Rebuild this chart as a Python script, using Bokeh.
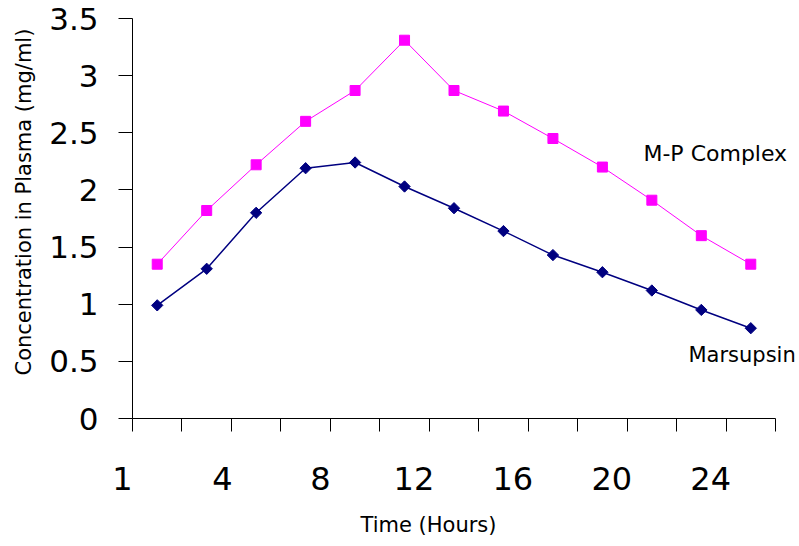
from bokeh.plotting import figure
from bokeh.models import Range1d, FixedTicker, NumeralTickFormatter, Label, Title
from bokeh.embed import file_html
from bokeh.resources import INLINE
import numpy as np

# ---- data ----
sample_index = [1, 2, 3, 4, 5, 6, 7, 8, 9, 10, 11, 12, 13]
mp_complex = [1.35, 1.82, 2.22, 2.60, 2.87, 3.31, 2.87, 2.69, 2.45, 2.20, 1.91, 1.60, 1.35]
marsupsin = [0.99, 1.31, 1.80, 2.19, 2.24, 2.03, 1.84, 1.64, 1.43, 1.28, 1.12, 0.95, 0.79]
hour_labels = ["1", "4", "8", "12", "16", "20", "24"]
hour_label_at = [0.5, 2.32, 4.30, 6.19, 8.19, 10.19, 12.19]
y_ticks = [0, 0.5, 1, 1.5, 2, 2.5, 3, 3.5]
category_edges = [i + 0.5 for i in range(0, 14)]

FONT = "DejaVu Sans"

p = figure(width=799, height=546, output_backend="svg", toolbar_location=None,
           x_range=Range1d(0.5, 13.985), y_range=Range1d(0, 3.5),
           min_border_left=132, min_border_right=0, min_border_top=18, min_border_bottom=128)
p.outline_line_color = None
p.xgrid.visible = False
p.ygrid.visible = False
p.background_fill_color = "white"
p.border_fill_color = "white"

# x axis: labels on (hidden) major ticks, category boundaries as minor ticks
overrides = {pos: lab for pos, lab in zip(hour_label_at, hour_labels)}
overrides[hour_label_at[0]] = hour_labels[0] + "\u00a0\u00a0"
xa = p.xaxis[0]
xa.ticker = FixedTicker(ticks=hour_label_at, minor_ticks=category_edges)
xa.major_label_overrides = overrides
xa.bounds = (0.5, 13.5)
xa.major_tick_out = 0
xa.major_tick_in = 0
xa.major_tick_line_color = None
xa.minor_tick_out = 13
xa.minor_tick_in = 0
xa.minor_tick_line_color = "black"
xa.axis_line_color = "black"
xa.major_label_standoff = 28
xa.major_label_text_font = FONT
xa.major_label_text_font_size = "32px"
xa.major_label_text_color = "black"

# y axis
ya = p.yaxis[0]
ya.ticker = FixedTicker(ticks=y_ticks)
ya.formatter = NumeralTickFormatter(format="0.[0]")
ya.major_tick_out = 14
ya.major_tick_in = 0
ya.minor_tick_line_color = None
ya.major_label_standoff = 20
ya.major_label_text_font = FONT
ya.major_label_text_font_size = "31px"
ya.major_label_text_color = "black"
ya.axis_line_color = "black"
ya.major_tick_line_color = "black"

# axis titles
p.add_layout(Title(text="Time (Hours)", align="left", offset=228, standoff=20,
                   text_font=FONT, text_font_size="21px", text_font_style="normal",
                   text_color="black"), "below")
p.add_layout(Title(text="Concentration in Plasma (mg/ml)", align="left", offset=43, standoff=17,
                   vertical_align="top",
                   text_font=FONT, text_font_size="21px", text_font_style="normal",
                   text_color="black"), "left")

# series
p.line(sample_index, mp_complex, line_color="#FF00FF", line_width=1)
p.scatter(sample_index, mp_complex, marker="square", size=10,
          fill_color="#FF00FF", line_color="#FF00FF")
p.line(sample_index, marsupsin, line_color="#000080", line_width=1.5)
p.scatter(sample_index, marsupsin, marker="square", size=8, angle=np.pi / 4,
          fill_color="#000080", line_color="#000080")

p.add_layout(Label(x=10.83, y=2.32, text="M-P Complex", text_font=FONT,
                   text_font_size="22px", text_color="black", text_baseline="alphabetic"))
p.add_layout(Label(x=11.74, y=0.56, text="Marsupsin", text_font=FONT,
                   text_font_size="21px", text_color="black", text_baseline="alphabetic"))

open("out.html", "w").write(file_html(p, INLINE))
